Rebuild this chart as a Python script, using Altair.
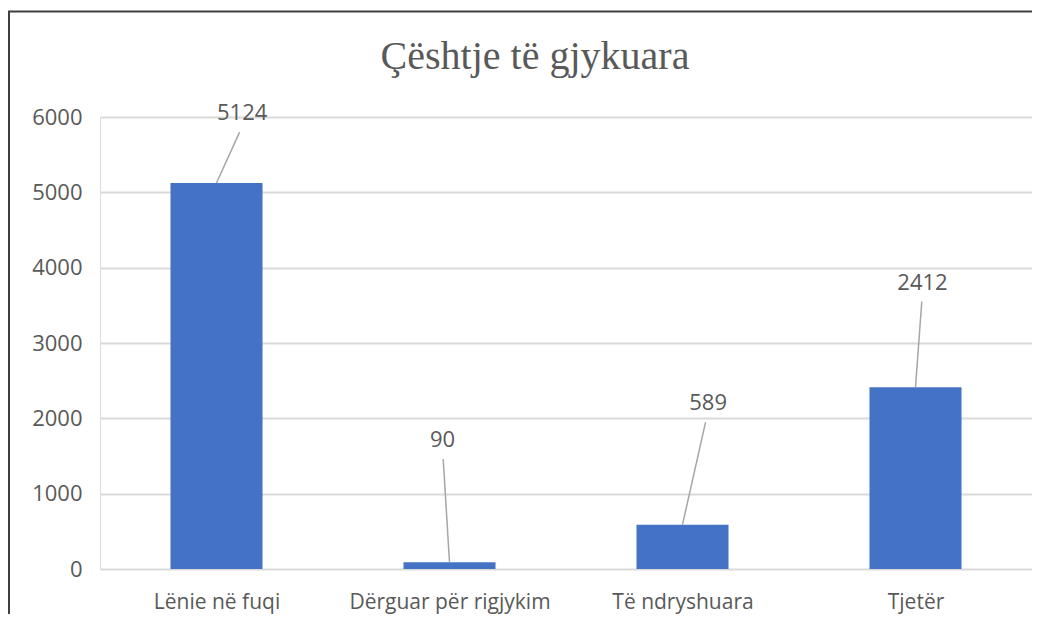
import json
import altair as alt
import pandas as pd

# ---- data ----
categories = ["Lënie në fuqi", "Dërguar për rigjykim", "Të ndryshuara", "Tjetër"]
values = [5124, 90, 589, 2412]
# data-label placement (label offset from bar centre in band units, label height in value units)
label_dx = [0.11, -0.03, 0.11, 0.03]
label_y = [6050, 1710, 2200, 3800]
y_ticks = [0, 1000, 2000, 3000, 4000, 5000, 6000]

TEXT = "#595959"
BAR = "#4472C4"
GRID = "#D9D9D9"
LEADER = "#A6A6A6"
FONT = "Open Sans"

W, H = 932, 452
HALF_BAR = 0.1975

df = pd.DataFrame({
    "idx": list(range(len(categories))),
    "cat": categories,
    "value": values,
    "ldx": label_dx,
    "ly": label_y,
})

base = alt.Chart(df).transform_calculate(
    pos="datum.idx + 0.5",
    x0=f"datum.idx + 0.5 - {HALF_BAR}",
    x1=f"datum.idx + 0.5 + {HALF_BAR}",
    lx="datum.idx + 0.5 + datum.ldx",
    ltx="datum.idx + 0.5 + datum.ldx * 0.9",
    lty="datum.ly - 250",
    label="format(datum.value, 'd')",
)

xscale = alt.Scale(domain=[0, len(categories)], nice=False, zero=False)
yscale = alt.Scale(domain=[0, 6000], nice=False)

label_expr = json.dumps(categories, ensure_ascii=False) + "[floor(datum.value)]"

bars = base.mark_bar(color=BAR).encode(
    x=alt.X("x0:Q", scale=xscale, axis=alt.Axis(
        values=[i + 0.5 for i in range(len(categories))],
        labelExpr=label_expr, title=None, grid=False, ticks=False, domain=False,
        labelFont=FONT, labelFontSize=21, labelColor=TEXT, labelPadding=22,
        labelLimit=0)),
    x2="x1:Q",
    y=alt.Y("value:Q", scale=yscale, axis=alt.Axis(
        values=y_ticks, format="d", title=None, ticks=False, domain=False, grid=True,
        gridColor=GRID, gridWidth=2, labelFont=FONT, labelFontSize=22,
        labelColor=TEXT, labelPadding=18)),
    y2=alt.datum(0),
)

leaders = base.mark_rule(color=LEADER, strokeWidth=1.5).encode(
    x=alt.X("pos:Q", scale=xscale),
    x2="ltx:Q",
    y=alt.Y("value:Q", scale=yscale),
    y2="lty:Q",
)

labels = base.mark_text(font=FONT, fontSize=22, color=TEXT, baseline="middle",
                        align="center").encode(
    x=alt.X("lx:Q", scale=xscale),
    y=alt.Y("ly:Q", scale=yscale),
    text="label:N",
)

frame_src = alt.Data(values=[{"k": 1}])
left_border = alt.Chart(frame_src).mark_rule(color="#404040", strokeWidth=2).encode(
    x=alt.value(-91), y=alt.value(-106), y2=alt.value(H + 45))
top_border = alt.Chart(frame_src).mark_rule(color="#404040", strokeWidth=2).encode(
    x=alt.value(-92), x2=alt.value(W + 8), y=alt.value(-105.5))

chart = alt.layer(bars, leaders, labels, left_border, top_border).properties(
    width=W,
    height=H,
    title=alt.TitleParams(
        "Çështje të gjykuara", font="Liberation Serif", fontSize=40,
        fontWeight="normal", color=TEXT, anchor="middle", dx=-31,
        baseline="alphabetic", offset=0, dy=99, frame="group"),
    padding={"left": 92, "top": 109, "right": 0, "bottom": 45},
    autosize=alt.AutoSizeParams(type="none"),
).configure_view(stroke=None).configure(background="white")

chart.save("out.html", embed_options={"renderer": "svg", "actions": False})
